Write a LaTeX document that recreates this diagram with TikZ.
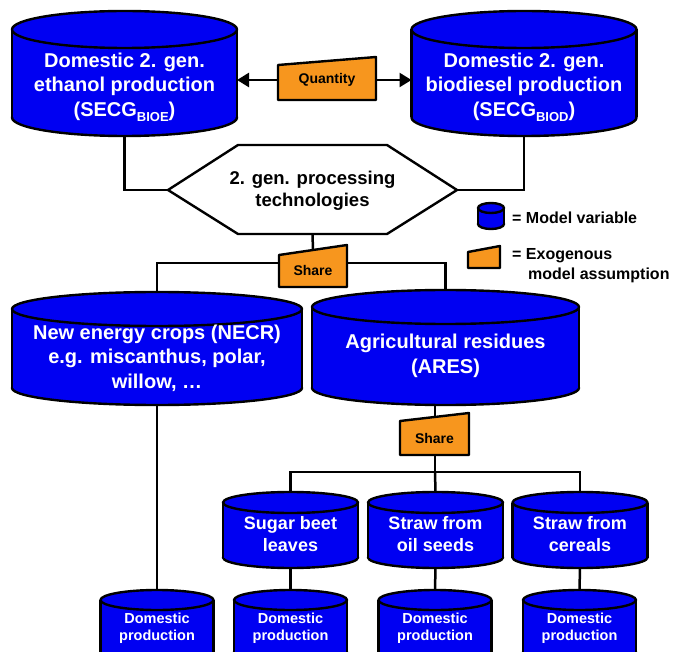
\documentclass[tikz,border=0pt]{standalone}
\usepackage{fontspec}
\setmainfont{Liberation Sans}
\usetikzlibrary{arrows.meta}
\pgfdeclarelayer{background}
\pgfsetlayers{background,main}

\definecolor{drumblue}{RGB}{0,0,242}
\definecolor{assumporange}{RGB}{247,150,30}

\tikzset{
  outline/.style={draw=black, line width=2.4pt, line join=round},
  link/.style={draw=black, line width=2.5pt},
  flowarrow/.style={link, -{Triangle[length=12pt,width=14pt]}},
  assumption/.style={outline, fill=assumporange},
  bigtext/.style={inner sep=0pt, align=center, text=white, font=\bfseries\fontsize{20}{24.5}\selectfont},
  midtext/.style={inner sep=0pt, align=center, text=white, font=\bfseries\fontsize{18}{22}\selectfont},
  smalltext/.style={inner sep=0pt, align=center, text=white, font=\bfseries\fontsize{14.5}{17}\selectfont},
  tagtext/.style={inner sep=0pt, align=center, text=black, font=\bfseries\fontsize{14}{16}\selectfont},
  legendtext/.style={inner sep=0pt, anchor=west, text=black, font=\bfseries\fontsize{16}{19}\selectfont},
}

% upright drum: name, centre x, top y, width, lowest y, ellipse half-height
\newcommand{\drum}[6]{%
  \filldraw[outline, fill=drumblue] ({#2},{#5-#6}) ellipse [x radius={#4/2}, y radius={#6}];
  \fill[drumblue] ({#2-#4/2},{#3+#6}) rectangle ({#2+#4/2},{#5-#6});
  \draw[outline] ({#2-#4/2},{#3+#6}) -- ({#2-#4/2},{#5-#6})
                 ({#2+#4/2},{#3+#6}) -- ({#2+#4/2},{#5-#6});
  \filldraw[outline, fill=drumblue] ({#2},{#3+#6}) ellipse [x radius={#4/2}, y radius={#6}];
  \coordinate (#1-top) at ({#2},{#3});
  \coordinate (#1-bot) at ({#2},{#5});
}

\newcommand{\subsc}[1]{\raisebox{-5pt}{\fontsize{13}{13}\selectfont #1}}

\begin{document}
\begin{tikzpicture}[x=1pt,y=-1pt]
\useasboundingbox (0,0) rectangle (675,652);
\clip (0,0) rectangle (675,652);

% ---- drums ----
\drum{eth}{124.5}{11}{225}{136}{18.5}
\drum{bio}{524}{11}{225}{136}{18.5}
\drum{necr}{157}{292}{290}{405}{17}
\drum{ares}{445.5}{290}{267}{405}{17}
\drum{sugar}{290.5}{492}{135}{568}{10.5}
\drum{oil}{435.5}{492}{135}{568}{10.5}
\drum{cereal}{580}{492}{135}{568}{10.5}
\drum{dn}{157}{590}{113}{662}{10}
\drum{ds}{290.5}{590}{113}{662}{10}
\drum{do}{435}{590}{113}{662}{10}
\drum{dc}{579.5}{590}{113}{662}{10}
\drum{legdrum}{491}{203}{26}{229}{5}

% ---- processing hexagon ----
\filldraw[outline, fill=white] (168,190) -- (238,145) -- (387,145) -- (457,190)
  -- (387,234) -- (238,234) -- cycle;
\coordinate (hex-w) at (168,190);
\coordinate (hex-e) at (457,190);
\coordinate (hex-s) at (312.5,234);

% ---- exogenous assumptions ----
\filldraw[assumption] (278,65) -- (376,57) -- (376,100) -- (278,100) -- cycle;
\filldraw[assumption] (279,255) -- (347,245) -- (347,287) -- (279,287) -- cycle;
\filldraw[assumption] (400,421) -- (469,413) -- (469,455) -- (400,455) -- cycle;
\filldraw[assumption] (468,252) -- (500,246) -- (500,268) -- (468,268) -- cycle;

\coordinate (quant-w) at (278,80);
\coordinate (quant-e) at (376,80);
\coordinate (eth-e) at (237,80);
\coordinate (bio-w) at (411.5,80);
\coordinate (share1-top) at (313,250);
\coordinate (split1) at (313,263);
\coordinate (ares-out) at (435,405);
\coordinate (split2) at (435,472);

% ---- connectors ----
\begin{pgfonlayer}{background}
  \draw[link] (eth-bot) |- (hex-w);
  \draw[link] (bio-bot) |- (hex-e);
  \draw[link] (hex-s) -- (share1-top);
  \draw[link] (necr-top) |- (split1) -| (ares-top);
  \draw[link] (ares-out) -- (split2);
  \draw[link] (sugar-top) |- (split2) -| (cereal-top);
  \draw[link] (split2) -- (oil-top);
  \draw[link] (necr-bot) -- (dn-top);
  \draw[link] (sugar-bot) -- (ds-top);
  \draw[link] (oil-bot) -- (do-top);
  \draw[link] (cereal-bot) -- (dc-top);
\end{pgfonlayer}
\draw[flowarrow] (quant-w) -- (eth-e);
\draw[flowarrow] (quant-e) -- (bio-w);

% ---- labels ----
\node[bigtext] (ethlabel) at (124.5,87) {Domestic 2. gen.\\ethanol production\\(SECG\subsc{BIOE})};
\node[bigtext] (biolabel) at (524,87) {Domestic 2. gen.\\biodiesel production\\(SECG\subsc{BIOD})};
\node[tagtext] (quant) at (327,80) {Quantity};
\node[inner sep=0pt, align=center, font=\bfseries\fontsize{18.5}{22}\selectfont] (hex) at (312.5,191) {2. gen. processing\\technologies};
\node[tagtext] (share1) at (313,270) {Share};
\node[tagtext] (share2) at (434.5,438) {Share};
\node[bigtext] (necrlabel) at (157,358) {New energy crops (NECR)\\e.g. miscanthus, polar,\\willow, \dots};
\node[bigtext] (areslabel) at (445.5,356) {Agricultural residues\\(ARES)};
\node[midtext] (sugarlabel) at (290.5,534) {Sugar beet\\leaves};
\node[midtext] (oillabel) at (435.5,534) {Straw from\\oil seeds};
\node[midtext] (cereallabel) at (580,534) {Straw from\\cereals};
\node[smalltext] (dnlabel) at (157,628) {Domestic\\production};
\node[smalltext] (dslabel) at (290.5,628) {Domestic\\production};
\node[smalltext] (dolabel) at (435,628) {Domestic\\production};
\node[smalltext] (dclabel) at (579.5,628) {Domestic\\production};

% ---- legend ----
\node[legendtext] (leg1) at (512,218) {= Model variable};
\node[legendtext] (leg2) at (512,256) {= Exogenous};
\node[legendtext] (leg3) at (528,275) {model assumption};
\end{tikzpicture}
\end{document}
